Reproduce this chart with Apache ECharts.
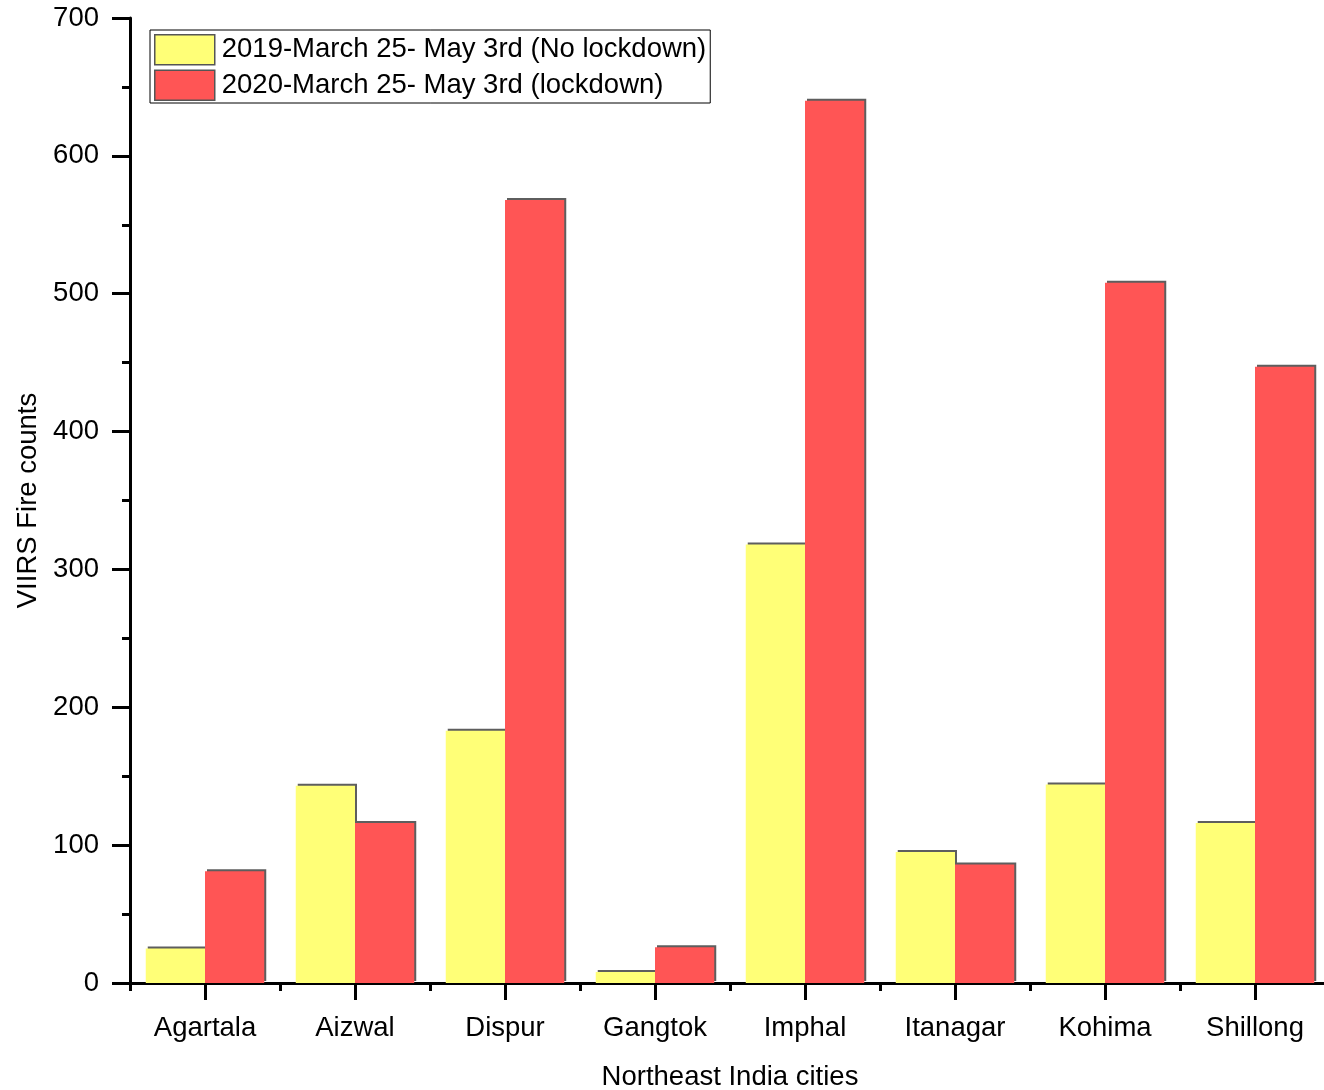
<!DOCTYPE html>
<html>
<head>
<meta charset="utf-8">
<script src="https://cdn.jsdelivr.net/npm/echarts@6/dist/echarts.min.js"></script>
<style>html,body{margin:0;padding:0;background:#fff;}#c{width:1324px;height:1090px;}</style>
</head>
<body>
<div id="c"></div>
<script>
const cities = ['Agartala', 'Aizwal', 'Dispur', 'Gangtok', 'Imphal', 'Itanagar', 'Kohima', 'Shillong'];
const fire2019 = [25, 143, 183, 8, 318, 95, 144, 116];
const fire2020 = [81, 116, 568, 26, 640, 86, 508, 447];
const seriesNames = ['2019-March 25- May 3rd (No lockdown)', '2020-March 25- May 3rd (lockdown)'];
const yTicks = [0, 100, 200, 300, 400, 500, 600, 700];

const FONT = '"Liberation Sans", Arial, sans-serif';
const FS = 27.5;
const chart = echarts.init(document.getElementById('c'), null, {renderer: 'canvas'});
const barStyle = (c) => ({
  color: c,
  shadowColor: 'rgba(40,40,40,0.75)',
  shadowOffsetX: 2,
  shadowOffsetY: -2,
  shadowBlur: 0
});
chart.setOption({
  animation: false,
  backgroundColor: '#fff',
  textStyle: {fontFamily: FONT},
  grid: {left: 130, top: 18, width: 1200, height: 965, containLabel: false, outerBoundsMode: 'none'},
  legend: {
    orient: 'vertical',
    left: 150, top: 30,
    padding: [4, 4, 2, 4],
    itemWidth: 60, itemHeight: 30, itemGap: 4,
    borderColor: '#000', borderWidth: 1,
    icon: 'rect',
    itemStyle: {borderColor: '#555', borderWidth: 1.5, shadowBlur: 0, shadowOffsetX: 0, shadowOffsetY: 0, shadowColor: 'transparent'},
    textStyle: {fontSize: FS, lineHeight: 30, color: '#000', fontFamily: FONT, padding: [0, 0, 0, 2]},
    data: seriesNames
  },
  xAxis: [{
    type: 'category',
    data: cities,
    position: 'bottom',
    name: 'Northeast India cities',
    nameLocation: 'middle',
    nameGap: 80,
    nameTextStyle: {fontSize: FS, color: '#000', fontFamily: FONT},
    axisLine: {lineStyle: {color: '#000', width: 3}},
    axisTick: {show: false},
    axisLabel: {fontSize: FS, color: '#000', margin: 31, fontFamily: FONT},
    splitLine: {show: false}
  }, {
    type: 'value',
    min: 0, max: 8, interval: 1,
    position: 'bottom',
    axisLine: {show: false},
    axisTick: {show: true, length: 8, lineStyle: {color: '#000', width: 3}},
    minorTick: {show: true, splitNumber: 2, length: 17, lineStyle: {color: '#000', width: 3}},
    axisLabel: {show: false},
    splitLine: {show: false}
  }],
  yAxis: {
    type: 'value',
    min: yTicks[0], max: yTicks[yTicks.length - 1], interval: 100,
    name: 'VIIRS Fire counts',
    nameLocation: 'middle',
    nameGap: 87,
    nameTextStyle: {fontSize: FS, color: '#000', fontFamily: FONT},
    axisLine: {show: true, lineStyle: {color: '#000', width: 3}},
    axisTick: {show: true, length: 18, lineStyle: {color: '#000', width: 3}},
    minorTick: {show: true, splitNumber: 2, length: 8, lineStyle: {color: '#000', width: 3}},
    axisLabel: {fontSize: FS, color: '#000', margin: 31, fontFamily: FONT},
    splitLine: {show: false}
  },
  series: [{
    name: seriesNames[0],
    type: 'bar',
    xAxisIndex: 0,
    data: fire2019,
    barGap: '0%',
    barCategoryGap: '21%',
    itemStyle: barStyle('#FFFF77')
  }, {
    name: seriesNames[1],
    type: 'bar',
    xAxisIndex: 0,
    data: fire2020,
    barGap: '0%',
    barCategoryGap: '21%',
    itemStyle: barStyle('#FF5555')
  }]
});
</script>
</body>
</html>
